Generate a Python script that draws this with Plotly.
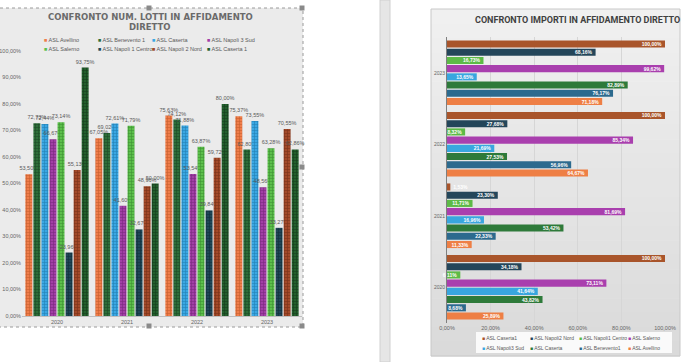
import plotly.graph_objects as go

W, H = 690, 362

years = ["2020", "2021", "2022", "2023"]

# ---- Left chart: CONFRONTO NUM. LOTTI IN AFFIDAMENTO DIRETTO (values in %)
lotti_names = ["ASL Avellino", "ASL Benevento 1", "ASL Caserta", "ASL Napoli 3 Sud",
               "ASL Salerno", "ASL Napoli 1 Centro", "ASL Napoli 2 Nord", "ASL Caserta 1"]
lotti_avellino = [53.50, 67.05, 75.63, 75.37]
lotti_benevento1 = [72.73, 69.02, 74.12, 62.80]
lotti_caserta = [72.44, 72.61, 71.88, 73.55]
lotti_napoli3sud = [66.67, 41.60, 53.54, 48.56]
lotti_salerno = [73.14, 71.79, 63.87, 63.28]
lotti_napoli1centro = [23.96, 32.67, 39.84, 33.27]
lotti_napoli2nord = [55.13, 48.96, 59.72, 70.55]
lotti_caserta1 = [93.75, 50.00, 80.00, 62.86]
lotti_values = [lotti_avellino, lotti_benevento1, lotti_caserta, lotti_napoli3sud,
                lotti_salerno, lotti_napoli1centro, lotti_napoli2nord, lotti_caserta1]
lotti_colors = ["#ef7d4a", "#2e6e3a", "#3aa7e3", "#a23fa6",
                "#5cbf4b", "#1f4757", "#a34a2a", "#235f2d"]
lotti_dark = ["#c8602f", "#1d4a26", "#2280b5", "#7a2a7e",
              "#3f9332", "#12303c", "#7a3219", "#143d1b"]

# ---- Right chart: CONFRONTO IMPORTI IN AFFIDAMENTO DIRETTO (values in %)
imp_names = ["ASL Avellino", "ASL Benevento1", "ASL Caserta", "ASL Napoli3 Sud",
             "ASL Salerno", "ASL Napoli1 Centro", "ASL Napoli2 Nord", "ASL Caserta1"]
imp_avellino = [25.89, 11.33, 64.67, 71.18]
imp_benevento1 = [8.68, 22.33, 56.96, 76.17]
imp_caserta = [43.82, 53.42, 27.53, 82.89]
imp_napoli3sud = [41.64, 16.96, 21.69, 13.65]
imp_salerno = [73.11, 81.69, 85.34, 99.62]
imp_napoli1centro = [6.11, 11.71, 8.32, 16.73]
imp_napoli2nord = [34.18, 23.30, 27.68, 68.16]
imp_caserta1 = [100.00, 1.53, 100.00, 100.00]
imp_values = [imp_avellino, imp_benevento1, imp_caserta, imp_napoli3sud,
              imp_salerno, imp_napoli1centro, imp_napoli2nord, imp_caserta1]
imp_colors = ["#ee7f45", "#2c6a8e", "#2e7a3a", "#39a6df",
              "#a93fae", "#5dba47", "#24465a", "#a9552b"]

FONT = "Liberation Sans"

fig = go.Figure()

for name, vals, col, dk in zip(lotti_names, lotti_values, lotti_colors, lotti_dark):
    fig.add_trace(go.Bar(
        x=years, y=vals, name=name, xaxis="x", yaxis="y",
        marker=dict(color=col, line=dict(width=0),
                    pattern=dict(shape="+", size=3, solidity=0.35,
                                 fgcolor=dk, bgcolor=col, fillmode="replace")),
        texttemplate="%{y:.2f}%", textposition="outside", constraintext="none",
        textfont=dict(size=5.5, color="#595959", family=FONT),
        cliponaxis=False, showlegend=False, hoverinfo="skip"))

for name, vals, col in zip(imp_names, imp_values, imp_colors):
    fig.add_trace(go.Bar(
        y=years, x=vals, name=name, orientation="h", xaxis="x2", yaxis="y2",
        marker=dict(color=col, line=dict(width=0)),
        texttemplate="<b>%{x:.2f}%</b>", textposition="auto", insidetextanchor="end",
        constraintext="none",
        insidetextfont=dict(size=5, color="white", family=FONT),
        outsidetextfont=dict(size=5, color="white", family=FONT),
        cliponaxis=False, showlegend=False, hoverinfo="skip"))

def px_x(v):
    return v / W

def px_y(v):
    return 1 - v / H

shapes = []
# left panel background with dotted border
shapes.append(dict(type="rect", xref="paper", yref="paper", x0=px_x(-2), x1=px_x(303),
                   y0=px_y(327), y1=px_y(8), fillcolor="#ebebeb",
                   line=dict(color="#9a9a9a", width=1, dash="dot"), layer="below"))
# selection handles
for hx, hy in [(149, 8), (302, 8), (302, 167), (302, 326), (149, 326)]:
    shapes.append(dict(type="rect", xref="paper", yref="paper",
                       x0=px_x(hx - 2.5), x1=px_x(hx + 2.5), y0=px_y(hy + 2.5), y1=px_y(hy - 2.5),
                       fillcolor="#8a8a8a", line=dict(width=0), layer="above"))
# splitter strip
shapes.append(dict(type="rect", xref="paper", yref="paper", x0=px_x(380), x1=px_x(390),
                   y0=0, y1=1, fillcolor="#e6e6e6", line=dict(color="#d0d0d0", width=1),
                   layer="below"))
# right panel gradient background
top_c = (240, 240, 240)
bot_c = (218, 218, 218)
n = 24
y_top, y_bot = 9, 356
for i in range(n):
    t = i / (n - 1)
    c = tuple(int(round(top_c[k] + (bot_c[k] - top_c[k]) * t)) for k in range(3))
    y0 = y_top + (y_bot - y_top) * i / n
    y1 = y_top + (y_bot - y_top) * (i + 1) / n
    shapes.append(dict(type="rect", xref="paper", yref="paper", x0=px_x(431), x1=px_x(680),
                       y0=px_y(y1 + 0.5), y1=px_y(y0), fillcolor="rgb(%d,%d,%d)" % c,
                       line=dict(width=0), layer="below"))
shapes.append(dict(type="rect", xref="paper", yref="paper", x0=px_x(431), x1=px_x(680),
                   y0=px_y(356), y1=px_y(9), fillcolor="rgba(0,0,0,0)",
                   line=dict(color="#c8c8c8", width=1), layer="below"))
# right legend box
shapes.append(dict(type="rect", xref="paper", yref="paper", x0=px_x(476), x1=px_x(672),
                   y0=px_y(353), y1=px_y(332), fillcolor="rgba(255,255,255,0.85)",
                   line=dict(width=0), layer="below"))

annotations = []
# titles
annotations.append(dict(xref="paper", yref="paper", x=px_x(150), y=px_y(17),
                        text="<b>CONFRONTO NUM. LOTTI IN AFFIDAMENTO</b>", showarrow=False,
                        font=dict(family="DejaVu Sans", size=8.5, color="#6a6a6a"),
                        xanchor="center", yanchor="middle"))
annotations.append(dict(xref="paper", yref="paper", x=px_x(150), y=px_y(26.5),
                        text="<b>DIRETTO</b>", showarrow=False,
                        font=dict(family="DejaVu Sans", size=8.5, color="#6a6a6a"),
                        xanchor="center", yanchor="middle"))
annotations.append(dict(xref="paper", yref="paper", x=px_x(577), y=px_y(20),
                        text="<b>CONFRONTO IMPORTI IN AFFIDAMENTO DIRETTO</b>", showarrow=False,
                        font=dict(family="Roboto", size=9, color="#404040"),
                        xanchor="center", yanchor="middle"))

# left legend (two rows)
lx = [42, 96, 150, 205]
for i, (name, col) in enumerate(zip(lotti_names, lotti_colors)):
    row, colidx = divmod(i, 4)
    annotations.append(dict(xref="paper", yref="paper", x=px_x(lx[colidx]), y=px_y(40 + 9 * row),
                            text="<span style='color:%s'>■</span> %s" % (col, name),
                            showarrow=False, xanchor="left", yanchor="middle",
                            font=dict(family=FONT, size=5.5, color="#595959")))

# right legend (two rows, reverse order)
rx = [480, 528, 577, 626]
rev_names = imp_names[::-1]
rev_cols = imp_colors[::-1]
for i, (name, col) in enumerate(zip(rev_names, rev_cols)):
    row, colidx = divmod(i, 4)
    annotations.append(dict(xref="paper", yref="paper", x=px_x(rx[colidx]), y=px_y(337.5 + 10 * row),
                            text="<span style='color:%s'>■</span> %s" % (col, name),
                            showarrow=False, xanchor="left", yanchor="middle",
                            font=dict(family=FONT, size=5, color="#595959")))

fig.update_layout(
    width=W, height=H, margin=dict(l=0, r=0, t=0, b=0, autoexpand=False),
    paper_bgcolor="white", plot_bgcolor="rgba(0,0,0,0)",
    separators=",.", barmode="group", bargap=0.08, bargroupgap=0.14,
    font=dict(family=FONT, size=6, color="#666666"),
    xaxis=dict(domain=[px_x(22), px_x(302)], anchor="y", type="category", automargin=False,
               showline=True, linecolor="#bfbfbf", linewidth=1, ticks="", showgrid=False,
               tickfont=dict(size=5.5, color="#666666")),
    yaxis=dict(domain=[px_y(316), px_y(51)], anchor="x", range=[0, 100], dtick=10,
               automargin=False,
               tickformat=".2f", ticksuffix="%", showgrid=False, zeroline=False,
               showline=False, ticks="", tickfont=dict(size=5.5, color="#666666")),
    xaxis2=dict(domain=[px_x(447), px_x(665)], anchor="y2", range=[0, 100], dtick=20,
                automargin=False,
                tickformat=".2f", ticksuffix="%", showgrid=True, gridcolor="#d6d6d6",
                zeroline=False, showline=False, ticks="",
                tickfont=dict(size=5.5, color="#666666")),
    yaxis2=dict(domain=[px_y(323), px_y(37)], anchor="x2", type="category", automargin=False,
                categoryorder="array", categoryarray=years,
                showline=True, linecolor="#7f7f7f", linewidth=1, ticks="", showgrid=False,
                tickfont=dict(size=5, color="#666666")),
    shapes=shapes, annotations=annotations,
)

fig.write_html("out.html", config={"displayModeBar": False},
               post_script="document.body.style.margin='0px';document.body.style.overflow='hidden';")
